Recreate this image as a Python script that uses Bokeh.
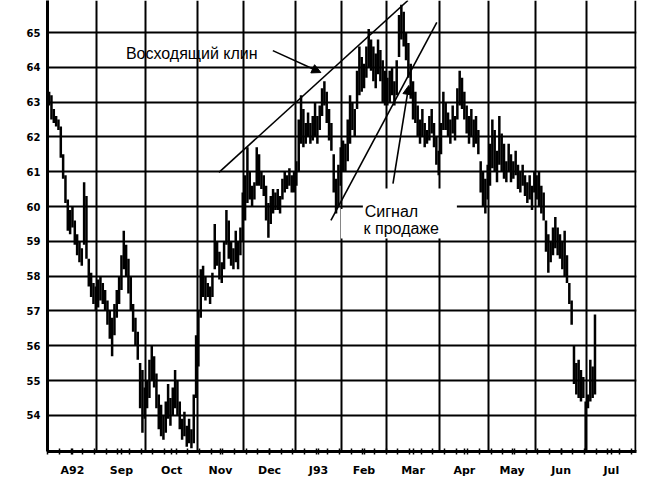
import numpy as np
from bokeh.plotting import figure
from bokeh.models import FixedTicker, Arrow, NormalHead, ColumnDataSource, Range1d
from bokeh.core.properties import value
from bokeh.embed import file_html
from bokeh.resources import INLINE

# ---- data (trading-day index, Aug 1992 .. Jul 1993) ----
month_labels = ["A92", "Sep", "Oct", "Nov", "Dec", "J93", "Feb", "Mar", "Apr", "May", "Jun", "Jul"]
month_starts = [0, 21, 42, 64, 84, 106, 126, 145, 168, 189, 209, 231, 252]
price_ticks = [54, 55, 56, 57, 58, 59, 60, 61, 62, 63, 64, 65]

high = [
    # Aug
    63.3, 63.2, 62.8, 62.6, 62.5, 62.3, 61.5, 60.9, 60.2, 59.9, 60.0, 59.6, 59.2, 59.0, 58.8, 60.7, 60.3, 58.5, 58.1, 57.8, 57.7,
    # Sep
    57.9, 58.0, 57.8, 57.6, 57.3, 57.0, 56.8, 57.2, 57.6, 58.0, 58.6, 59.3, 58.9, 58.5, 58.0, 57.2, 56.8, 56.4, 55.5, 55.3, 54.8,
    # Oct
    55.0, 55.6, 56.0, 55.7, 55.2, 54.6, 54.3, 54.0, 54.4, 54.9, 54.5, 54.8, 55.3, 55.0, 54.4, 53.9, 54.1, 53.7, 53.9, 53.6, 54.6, 56.3,
    # Nov
    57.0, 58.2, 58.3, 58.0, 57.8, 57.7, 58.1, 59.5, 59.0, 58.7, 58.4, 59.0, 59.9, 59.6, 59.0, 58.8, 59.3, 59.0, 59.4, 60.4,
    # Dec
    60.9, 61.7, 61.0, 60.6, 60.7, 61.7, 61.5, 61.0, 60.9, 60.6, 60.1, 60.3, 60.5, 60.4, 60.5, 60.3, 60.8, 61.0, 60.9, 61.1, 60.9, 61.0,
    # Jan
    61.3, 62.5, 63.2, 62.8, 62.4, 62.7, 62.4, 62.6, 63.0, 62.6, 62.9, 63.4, 63.6, 63.3, 62.8, 62.4, 61.5, 60.8, 61.2, 61.7,
    # Feb
    61.9, 61.8, 62.5, 63.2, 63.0, 62.8, 63.9, 64.6, 64.3, 64.1, 64.6, 65.1, 64.8, 64.6, 64.4, 64.8, 64.5, 64.2, 63.9,
    # Mar
    63.7, 63.9, 64.0, 63.6, 64.2, 65.5, 65.8, 65.6, 65.0, 64.7, 64.1, 63.6, 63.3, 62.9, 62.5, 62.8, 62.4, 62.2, 62.6, 62.8, 62.4, 62.0, 61.6,
    # Apr
    62.4, 63.3, 63.0, 62.7, 62.5, 62.9, 62.6, 63.4, 63.9, 63.7, 63.3, 62.9, 62.6, 62.8, 62.5, 62.6, 62.2, 61.3, 61.0, 60.8, 61.2,
    # May
    61.8, 62.5, 62.2, 61.6, 62.6, 62.1, 61.8, 61.3, 61.8, 61.5, 61.3, 61.6, 61.2, 61.0, 61.2, 60.9, 60.7, 60.9, 60.6, 61.0,
    # Jun
    60.9, 61.0, 60.6, 60.4, 59.6, 59.2, 59.0, 59.4, 59.7, 59.4, 59.2, 59.0, 59.3, 58.6, 57.8, 57.3, 56.0, 55.5, 55.6, 55.3, 55.1, 54.4,
    # Jul
    54.6, 55.6, 55.4, 56.9,
]

low = [
    # Aug
    62.9, 62.5, 62.4, 62.3, 62.2, 61.4, 60.8, 60.1, 59.3, 59.2, 59.4, 58.9, 58.6, 58.4, 58.3, 58.9, 58.5, 57.7, 57.4, 57.2, 57.0,
    # Sep
    57.1, 57.3, 57.2, 57.0, 56.6, 56.2, 55.7, 56.3, 56.8, 57.2, 57.6, 58.2, 58.0, 57.5, 57.0, 56.4, 56.0, 55.6, 54.2, 53.5, 53.9,
    # Oct
    54.2, 54.5, 55.0, 54.8, 54.2, 53.6, 53.4, 53.3, 53.5, 53.9, 53.7, 54.0, 54.2, 54.0, 53.6, 53.3, 53.4, 53.1, 53.2, 53.05, 53.2, 54.5,
    # Nov
    55.4, 56.8, 57.4, 57.3, 57.4, 57.2, 57.4, 58.2, 58.3, 57.9, 57.8, 58.2, 58.9, 58.5, 58.3, 58.2, 58.4, 58.2, 58.6, 59.0,
    # Dec
    59.6, 60.1, 60.2, 60.0, 60.2, 60.6, 60.6, 60.5, 60.3, 59.6, 59.1, 59.5, 59.8, 59.9, 59.9, 59.8, 60.2, 60.4, 60.5, 60.6, 60.4, 60.4,
    # Jan
    60.6, 61.0, 61.8, 61.7, 61.8, 62.0, 61.8, 61.9, 62.0, 61.8, 62.2, 62.6, 62.9, 62.4, 61.9, 61.6, 60.4, 59.8, 60.0, 60.6,
    # Feb
    61.0, 61.0, 61.3, 61.8, 62.2, 62.0, 62.8, 63.2, 63.3, 63.4, 63.7, 64.0, 63.9, 63.6, 63.4, 63.8, 63.6, 63.0, 62.9,
    # Mar
    62.9, 63.0, 63.2, 62.9, 63.2, 64.3, 64.8, 64.6, 64.2, 63.7, 63.1, 62.5, 62.4, 62.0, 61.8, 62.0, 61.7, 61.8, 61.9, 62.1, 61.7, 61.2, 60.9,
    # Apr
    61.5, 62.2, 62.2, 62.0, 61.8, 62.1, 61.9, 62.5, 62.9, 62.8, 62.5, 62.1, 61.8, 62.0, 61.7, 61.8, 61.5, 60.4, 60.0, 59.8, 60.2,
    # May
    60.6, 61.1, 61.0, 60.7, 61.2, 61.0, 60.8, 60.7, 61.0, 60.7, 60.8, 60.9, 60.5, 60.4, 60.6, 60.3, 60.1, 60.2, 59.9, 60.4,
    # Jun
    60.2, 60.0, 59.8, 59.6, 58.7, 58.1, 58.4, 58.6, 58.8, 58.6, 58.5, 58.2, 58.0, 57.8, 57.2, 56.6, 54.9, 54.6, 54.5, 54.4, 54.5, 53.0,
    # Jul
    54.2, 54.4, 54.5, 54.6,
]

# annotation geometry (data units: trading day, price)
wedge_upper_x = [73.3, 154.3]
wedge_upper_y = [60.98, 65.92]
wedge_lower_x = [121.3, 166.7]
wedge_lower_y = [59.60, 65.29]
label_texts = ["Восходящий клин", "Сигнал", "к продаже"]
label_x = [33.4, 135.8, 135.3]
label_y = [64.40, 59.86, 59.37]
label_box_left = [135.0, 125.6]
label_box_right = [175.3, 175.3]
label_box_bottom = [59.93, 59.08]
label_box_top = [60.52, 59.93]

# ---- figure ----
p = figure(width=647, height=481, output_backend="svg", toolbar_location=None,
           x_range=Range1d(-0.2, 252.3), y_range=Range1d(52.96, 65.92),
           min_border_left=47, min_border_right=11, min_border_top=0, min_border_bottom=30)
p.outline_line_color = None
p.background_fill_color = "white"
p.border_fill_color = "white"

# axes
month_mid = [(month_starts[i] + month_starts[i + 1]) / 2 for i in range(len(month_labels))]
week_ticks = list(range(0, 253, 5))
p.xaxis.ticker = FixedTicker(ticks=month_mid, minor_ticks=week_ticks)
p.xaxis.major_label_overrides = {m: lab for m, lab in zip(month_mid, month_labels)}
p.xaxis.axis_line_width = 3
p.xaxis.axis_line_color = "black"
p.xaxis.major_tick_in = 3
p.xaxis.major_tick_out = 3
p.xaxis.minor_tick_in = 3
p.xaxis.minor_tick_out = 3
p.xaxis.major_tick_line_width = 1.5
p.xaxis.minor_tick_line_width = 1.5
p.xaxis.major_tick_line_color = "black"
p.xaxis.minor_tick_line_color = "black"
p.xaxis.major_label_standoff = 9
p.xaxis.major_label_text_font = "DejaVu Sans"
p.xaxis.major_label_text_font_style = "bold"
p.xaxis.major_label_text_font_size = "11px"
p.xaxis.major_label_text_color = "black"

p.yaxis.ticker = FixedTicker(ticks=price_ticks)
p.yaxis.major_label_overrides = {t: str(t) for t in price_ticks}
p.yaxis.axis_line_width = 3
p.yaxis.axis_line_color = "black"
p.yaxis.major_tick_in = 0
p.yaxis.major_tick_out = 0
p.yaxis.minor_tick_in = 0
p.yaxis.minor_tick_out = 0
p.yaxis.major_label_standoff = 7
p.yaxis.major_label_text_font = "DejaVu Sans"
p.yaxis.major_label_text_font_style = "bold"
p.yaxis.major_label_text_font_size = "10px"
p.yaxis.major_label_text_color = "black"

# grids
p.xgrid.ticker = FixedTicker(ticks=month_starts)
p.xgrid.grid_line_color = "black"
p.xgrid.grid_line_width = 2
p.ygrid.grid_line_color = "black"
p.ygrid.grid_line_width = 2

# white label boxes (cover the grid behind the "Сигнал к продаже" caption)
p.quad(left=label_box_left, right=label_box_right, bottom=label_box_bottom, top=label_box_top,
       fill_color="white", line_color=None)

# price bars
xs = np.arange(len(high)) + 0.5
src = ColumnDataSource(dict(x=xs, high=high, low=low))
p.segment(x0="x", y0="low", x1="x", y1="high", source=src, line_color="black", line_width=2.5)

# wedge lines
p.line(wedge_upper_x, wedge_upper_y, line_color="black", line_width=1.6)
p.line(wedge_lower_x, wedge_lower_y, line_color="black", line_width=1.6)

# arrows
p.add_layout(Arrow(end=NormalHead(size=9, fill_color="black", line_color="black", line_width=1),
                   x_start=96.4, y_start=64.48, x_end=117.0, y_end=63.85,
                   line_color="black", line_width=1.6))
p.add_layout(Arrow(end=NormalHead(size=9, fill_color="black", line_color="black", line_width=1),
                   x_start=147.9, y_start=60.66, x_end=154.7, y_end=63.48,
                   line_color="black", line_width=1.6))

# texts
p.text(x=label_x, y=label_y, text=label_texts, text_font=value("Liberation Sans"),
       text_font_size="16px", text_color="black", text_baseline="alphabetic", text_align="left")

open("out.html", "w").write(file_html(p, INLINE))
